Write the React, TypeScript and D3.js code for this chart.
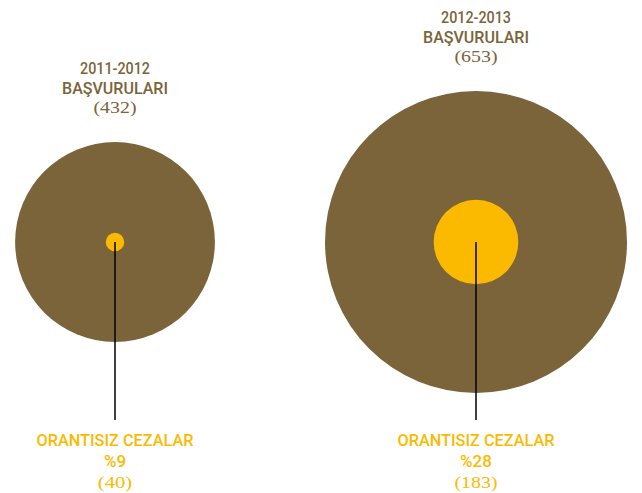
import React from "react";
import * as d3 from "d3";

const periods = ["2011-2012", "2012-2013"];
const applications = [432, 653];
const disproportionate = [40, 183];
const percents = ["%9", "%28"];
const titleLine2 = "BAŞVURULARI";
const bottomLabel = "ORANTISIZ CEZALAR";

const W = 642;
const H = 493;
const BROWN = "#7b633a";
const YELLOW = "#fbba00";
const SANS = "Roboto, 'Liberation Sans', Arial, sans-serif";
const SERIF = "'Liberation Serif', 'Times New Roman', serif";

export default function App() {
  const x = d3.scalePoint<string>().domain(periods).range([115, 476]);
  const r = d3.scaleLinear().domain([0, 653]).range([0, 151]);
  const cy = 242;
  const lineEnd = 420;

  return (
    <svg width={W} height={H} style={{ position: "absolute", left: 0, top: 0, background: "#fff" }}>
      {periods.map((p, i) => {
        const cx = x(p) as number;
        const R = r(applications[i]);
        const rin = r(disproportionate[i]);
        const top = cy - R;
        const numLabel = `(${applications[i]})`;
        const subLabel = `(${disproportionate[i]})`;
        return (
          <g key={p}>
            <circle cx={cx} cy={cy} r={R} fill={BROWN} />
            <circle cx={cx} cy={cy} r={rin} fill={YELLOW} />
            <line x1={cx} x2={cx} y1={cy} y2={lineEnd} stroke="#000" strokeWidth={1.5} />
            <text x={cx} y={top - 68} textAnchor="middle" fill={BROWN} fontFamily={SANS} fontWeight={500} fontSize={16.5} textLength={70} lengthAdjust="spacingAndGlyphs">{p}</text>
            <text x={cx} y={top - 48} textAnchor="middle" fill={BROWN} fontFamily={SANS} fontWeight={500} fontSize={16.5} textLength={106} lengthAdjust="spacingAndGlyphs">{titleLine2}</text>
            <text x={cx} y={top - 29} textAnchor="middle" fill={BROWN} fontFamily={SERIF} fontSize={17.5} textLength={numLabel.length * 8.6} lengthAdjust="spacingAndGlyphs">{numLabel}</text>
            <text x={cx} y={446} textAnchor="middle" fill={YELLOW} fontFamily={SANS} fontWeight={500} fontSize={17} textLength={157} lengthAdjust="spacingAndGlyphs">{bottomLabel}</text>
            <text x={cx} y={467} textAnchor="middle" fill={YELLOW} fontFamily={SANS} fontWeight={500} fontSize={17}>{percents[i]}</text>
            <text x={cx} y={488} textAnchor="middle" fill={YELLOW} fontFamily={SERIF} fontSize={17.5} textLength={subLabel.length * 8.6} lengthAdjust="spacingAndGlyphs">{subLabel}</text>
          </g>
        );
      })}
    </svg>
  );
}
